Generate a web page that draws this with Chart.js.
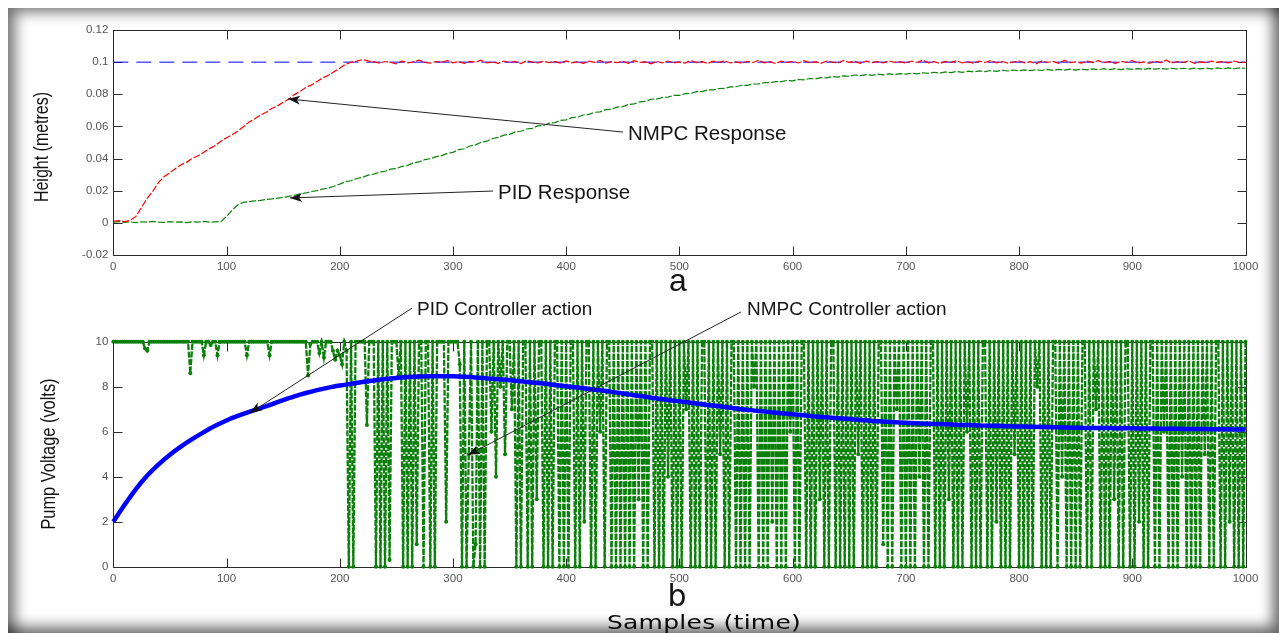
<!DOCTYPE html>
<html>
<head>
<meta charset="utf-8">
<script src="https://cdn.jsdelivr.net/npm/chart.js@4.4.1/dist/chart.umd.min.js"></script>
<style>
html,body{margin:0;padding:0;background:#fff;width:1279px;height:633px;overflow:hidden;position:relative;}
#frame{position:absolute;left:8px;top:8px;width:1271px;height:625px;
  box-shadow: inset 13px 10px 14px -6px rgba(0,0,0,0.55), inset -12px -12px 14px -6px rgba(0,0,0,0.6);}
canvas{position:absolute;left:0;}
.lbl{position:absolute;white-space:nowrap;color:#151515;font-family:"Liberation Sans",Arial,sans-serif;}
.ytitle{position:absolute;white-space:nowrap;color:#111;font-family:"Liberation Sans",Arial,sans-serif;font-size:19.5px;line-height:19.5px;transform-origin:50% 50%;}
</style>
</head>
<body>
<div id="frame"></div>
<canvas id="c1" width="1279" height="290" style="top:0px"></canvas>
<canvas id="c2" width="1279" height="343" style="top:290px"></canvas>

<div class="ytitle" style="left:42px;top:146.5px;transform:translate(-50%,-50%) rotate(-90deg) scaleX(0.82)">Height (metres)</div>
<div class="ytitle" style="left:49px;top:454px;transform:translate(-50%,-50%) rotate(-90deg) scaleX(0.84)">Pump Voltage (volts)</div>
<div class="lbl" style="left:628px;top:122.6px;font-size:20.5px;line-height:20.5px">NMPC Response</div>
<div class="lbl" style="left:498px;top:181.6px;font-size:20.5px;line-height:20.5px">PID Response</div>
<div class="lbl" style="left:678px;top:264.4px;font-size:32px;line-height:32px;transform:translateX(-50%)">a</div>
<div class="lbl" style="left:417px;top:298.9px;font-size:19px;line-height:19px">PID Controller action</div>
<div class="lbl" style="left:747px;top:298.9px;font-size:19px;line-height:19px">NMPC Controller action</div>
<div class="lbl" style="left:677px;top:580.6px;font-size:30px;line-height:30px;font-family:'DejaVu Sans',Verdana,sans-serif;transform:translateX(-50%)">b</div>
<div class="lbl" style="left:703.5px;top:612px;font-size:20px;line-height:20px;color:#0a0a0a;font-family:'DejaVu Sans',Verdana,sans-serif;transform:translateX(-50%) scaleX(1.25);letter-spacing:0.2px">Samples (time)</div>

<script>
// ---------------- DATA ----------------
const sampleTicks = [0,100,200,300,400,500,600,700,800,900,1000];
const sampleTickLabels = ['0','100','200','300','400','500','600','700','800','900','1000'];
const heightTicks = [-0.02,0,0.02,0.04,0.06,0.08,0.1,0.12];
const heightTickLabels = ['-0.02','0','0.02','0.04','0.06','0.08','0.1','0.12'];
const voltageTicks = [0,2,4,6,8,10];
const voltageTickLabels = ['0','2','4','6','8','10'];

// tank height responses, one value every 5 samples (0..1000)
const responseStep = 5;
const nmpcHeight = [
 0.0010,0.0014,0.0008,0.0016,0.0040,0.0098,0.0152,0.0198,0.0252,0.0288,0.0312,0.0338,0.0362,0.0378,0.0402,0.0418,0.0440,0.0462,0.0481,0.0508,
 0.0530,0.0548,0.0572,0.0598,0.0628,0.0648,0.0671,0.0688,0.0712,0.0728,0.0750,0.0770,0.0798,0.0818,0.0842,0.0858,0.0880,0.0902,0.0918,0.0940,
 0.0962,0.0986,0.1000,0.1006,0.1016,0.1008,0.1002,0.0994,0.1004,0.0998,0.0990,0.1006,0.0996,0.1002,0.1012,0.0998,0.0994,0.1004,0.0999,0.1010,
 0.0996,0.1003,0.0992,0.1005,0.0999,0.1012,0.0995,0.1001,0.0993,0.1007,0.0998,0.1004,0.0991,0.1009,0.1000,0.0995,0.1006,0.0997,0.1003,0.0994,
 0.1008,0.0996,0.1002,0.0992,0.1006,0.0999,0.1011,0.0994,0.1003,0.0997,0.1005,0.0993,0.1009,0.0998,0.1001,0.0990,0.1004,0.0996,0.1007,0.0995,
 0.1002,0.0994,0.1010,0.0997,0.1003,0.0992,0.1006,0.0999,0.1008,0.0995,0.1001,0.0993,0.1005,0.0998,0.1012,0.0996,0.1003,0.0991,0.1006,0.0998,
 0.1004,0.0995,0.1009,0.0997,0.1002,0.0993,0.1007,0.1000,0.0994,0.1011,0.0998,0.1003,0.0992,0.1006,0.0997,0.1004,0.0995,0.1008,0.0999,0.1002,
 0.0994,0.1007,0.0998,0.1013,0.0996,0.1003,0.0991,0.1005,0.0999,0.1009,0.0995,0.1002,0.0993,0.1006,0.0998,0.1010,0.0996,0.1004,0.0994,0.1001,
 0.1007,0.0995,0.1003,0.0990,0.1008,0.0998,0.1005,0.0993,0.1011,0.0997,0.1002,0.0994,0.1006,0.0999,0.1009,0.0996,0.1003,0.0992,0.1005,0.0998,
 0.1010,0.0995,0.1002,0.0993,0.1007,0.0997,0.1012,0.0994,0.1004,0.0998,0.1008,0.0993,0.1001,0.0996,0.1006,0.0999,0.1003,0.0995,0.1007,0.0998,
 0.1000
];
const pidHeight = [
 0.0004,0.0008,0.0003,0.0006,0.0002,0.0007,0.0004,0.0009,0.0005,0.0003,0.0008,0.0004,0.0006,0.0002,0.0007,0.0005,0.0009,0.0004,0.0006,0.0008,
 0.0040,0.0080,0.0112,0.0128,0.0132,0.0137,0.0140,0.0146,0.0149,0.0154,0.0158,0.0165,0.0172,0.0180,0.0186,0.0195,0.0201,0.0210,0.0217,0.0228,
 0.0241,0.0256,0.0262,0.0276,0.0283,0.0297,0.0303,0.0316,0.0321,0.0334,0.0338,0.0351,0.0358,0.0373,0.0379,0.0393,0.0399,0.0412,0.0418,0.0432,
 0.0439,0.0456,0.0461,0.0478,0.0485,0.0502,0.0508,0.0525,0.0532,0.0546,0.0551,0.0566,0.0570,0.0584,0.0588,0.0603,0.0606,0.0621,0.0624,0.0638,
 0.0641,0.0655,0.0658,0.0671,0.0675,0.0688,0.0691,0.0704,0.0707,0.0720,0.0723,0.0737,0.0740,0.0753,0.0756,0.0769,0.0770,0.0781,0.0782,0.0793,
 0.0793,0.0804,0.0805,0.0816,0.0817,0.0827,0.0827,0.0836,0.0837,0.0846,0.0847,0.0856,0.0856,0.0864,0.0864,0.0872,0.0872,0.0879,0.0879,0.0886,
 0.0884,0.0892,0.0890,0.0898,0.0896,0.0904,0.0902,0.0910,0.0907,0.0915,0.0912,0.0920,0.0916,0.0922,0.0918,0.0925,0.0921,0.0927,0.0923,0.0929,
 0.0925,0.0931,0.0927,0.0934,0.0930,0.0937,0.0932,0.0939,0.0935,0.0942,0.0937,0.0944,0.0939,0.0946,0.0941,0.0948,0.0943,0.0950,0.0945,0.0951,
 0.0946,0.0952,0.0947,0.0953,0.0948,0.0955,0.0949,0.0955,0.0950,0.0957,0.0951,0.0957,0.0952,0.0958,0.0953,0.0959,0.0953,0.0959,0.0954,0.0960,
 0.0955,0.0960,0.0955,0.0961,0.0956,0.0961,0.0956,0.0962,0.0957,0.0962,0.0957,0.0963,0.0958,0.0963,0.0958,0.0964,0.0958,0.0964,0.0959,0.0964,
 0.0962
];
const setpointSamples = [0, 1000];
const setpointHeight = [0.1, 0.1];

// pump voltage, PID: one value every 10 samples
const pidVoltageStep = 10;
const pidVoltage = [
 2.00,2.75,3.45,4.05,4.55,4.98,5.35,5.68,5.98,6.26,
 6.50,6.70,6.88,7.05,7.22,7.40,7.57,7.72,7.85,7.96,
 8.05,8.13,8.21,8.28,8.34,8.39,8.43,8.45,8.47,8.47,
 8.46,8.44,8.41,8.37,8.33,8.29,8.24,8.19,8.14,8.08,
 8.02,7.96,7.90,7.84,7.77,7.70,7.62,7.55,7.48,7.41,
 7.35,7.29,7.22,7.16,7.10,7.03,6.97,6.92,6.87,6.82,
 6.78,6.73,6.68,6.64,6.60,6.56,6.52,6.48,6.45,6.42,
 6.40,6.37,6.35,6.34,6.32,6.30,6.29,6.27,6.26,6.24,
 6.23,6.22,6.21,6.20,6.19,6.18,6.17,6.17,6.16,6.15,
 6.15,6.14,6.14,6.13,6.13,6.12,6.12,6.11,6.11,6.10,6.10
];
// pump voltage, NMPC: one value every 2 samples
const nmpcVoltageStep = 2;
const nmpcVoltage = [
 10,10,10,10,10,10,10,10,10,10,10,10,10,10,9.7,9.6,10,10,10,10,10,10,10,10,10,
 10,10,10,10,10,10,10,10,10,8.6,10,10,10,10,10,9.4,10,10,9.85,10,10,9.4,10,10,10,
 10,10,10,10,10,10,10,10,10,9.4,10,10,10,10,10,10,10,10,10,9.4,10,10,10,10,10,
 10,10,10,10,10,10,10,10,10,10,10,8.5,9.9,10,10,10,9.5,10,9.3,10,10,10,9.6,9.2,9.6,
 9.4,9.0,10,9.6,0,10,0,10,10,10,10,10,6.3,10,10,10,0,10,0,10,0,10,0.3,10,10,
 10,8.5,10,0,10,0,10,0,10,1,10,10,0,10,10,0,10,0,10,10,10,10,2,10,10,
 10,10,10,9,0,10,0,5,10,0,1,10,0,10,0,10,10,6,10,4,10,8,10,5,10,
 10,7,10,0,10,0,10,10,0,10,0,10,3,10,10,0,10,0,10,0,10,10,0,10,0,
 10,0,10,10,0,10,0,10,2,10,10,0,10,0,10,6,10,0,10,10,0,10,0,10,0,
 10,0,10,0,10,0,10,3,10,0,10,0,10,10,0,10,0,10,0,10,4,10,0,10,0,
 10,0,10,7,10,0,10,0,10,0,10,10,0,10,0,10,0,10,5,10,0,10,0,10,10,
 0,10,0,10,0,10,0,10,8,10,0,10,0,10,0,10,2,10,0,10,0,10,0,10,6,
 10,0,10,0,10,10,0,10,0,10,0,10,3,10,0,10,0,10,10,0,10,0,10,0,10,
 0,10,0,10,5,10,0,10,0,10,0,10,0,10,10,1,10,0,10,0,10,7,10,0,10,
 0,10,0,10,0,10,4,10,0,10,0,10,10,0,10,0,10,0,10,3,10,0,10,0,10,
 0,10,6,10,0,10,0,10,0,10,10,0,10,0,10,2,10,0,10,0,10,0,10,5,10,
 0,10,0,10,0,10,0,10,8,10,0,10,0,10,0,10,10,0,10,4,10,0,10,0,10,
 0,10,0,10,10,0,10,0,10,7,10,0,10,0,10,0,10,3,10,0,10,0,10,10,0,
 10,0,10,2,10,0,10,0,10,10,0,10,0,10,6,10,0,10,0,10,0,10,4,10,0,
 10,0,10,0,10,0,10,5,10,0,10,0,10,10,0,10,0,10,2,10,0,10,0,10,0,
 10
];

// ---------------- HELPERS ----------------
const toPoints = (vals, step) => vals.map((v, i) => ({x: i * step, y: v}));
const pairPoints = (xs, ys) => xs.map((x, i) => ({x: x, y: ys[i]}));
const tickFont = {family: "'Liberation Sans', Arial, sans-serif", size: 11.5};

const matlabAxes = {
  id: 'matlabAxes',
  beforeDatasetsDraw(chart) {
    const {ctx, chartArea: a, scales: {x, y}} = chart;
    ctx.save();
    ctx.strokeStyle = '#2a2a2a';
    ctx.lineWidth = 1;
    const L = Math.round(a.left) + 0.5, R = Math.round(a.right) + 0.5, T = Math.round(a.top) + 0.5, B = Math.round(a.bottom) + 0.5;
    ctx.strokeRect(L, T, R - L, B - T);
    ctx.beginPath();
    x.ticks.forEach(t => {
      const px = Math.round(x.getPixelForValue(t.value)) + 0.5;
      ctx.moveTo(px, B); ctx.lineTo(px, B - 9);
      ctx.moveTo(px, T); ctx.lineTo(px, T + 9);
    });
    y.ticks.forEach(t => {
      const py = Math.round(y.getPixelForValue(t.value)) + 0.5;
      ctx.moveTo(L, py); ctx.lineTo(L + 9, py);
      ctx.moveTo(R, py); ctx.lineTo(R - 9, py);
    });
    ctx.stroke();
    ctx.restore();
  }
};

const arrowPlugin = {
  id: 'arrows',
  afterDraw(chart, args, opts) {
    const {ctx, scales: {x, y}} = chart;
    (opts.items || []).forEach(it => {
      const x1 = x.getPixelForValue(it.from[0]), y1 = y.getPixelForValue(it.from[1]);
      const x2 = x.getPixelForValue(it.to[0]), y2 = y.getPixelForValue(it.to[1]);
      const ang = Math.atan2(y2 - y1, x2 - x1);
      ctx.save();
      ctx.strokeStyle = '#222'; ctx.fillStyle = '#111'; ctx.lineWidth = 1;
      ctx.beginPath(); ctx.moveTo(x1, y1); ctx.lineTo(x2, y2); ctx.stroke();
      const len = 12, w = 4.5;
      ctx.translate(x2, y2); ctx.rotate(ang);
      ctx.beginPath();
      ctx.moveTo(0, 0); ctx.lineTo(-len, -w); ctx.lineTo(-len + 3, 0); ctx.lineTo(-len, w); ctx.closePath();
      ctx.fill();
      ctx.restore();
    });
  }
};

function makeScales(yTicks, yLabels, yMin, yMax) {
  return {
    x: {
      type: 'linear', min: 0, max: 1000,
      afterBuildTicks: s => { s.ticks = sampleTicks.map(v => ({value: v})); },
      afterFit: s => { s.height = 20; },
      grid: {display: false, drawTicks: false}, border: {display: false},
      ticks: {autoSkip: false, maxRotation: 0, padding: 5, color: '#555', font: tickFont,
              callback: (v, i) => sampleTickLabels[i]}
    },
    y: {
      type: 'linear', min: yMin, max: yMax,
      afterBuildTicks: s => { s.ticks = yTicks.map(v => ({value: v})); },
      afterFit: s => { s.width = 113.3; },
      grid: {display: false, drawTicks: false}, border: {display: false},
      ticks: {autoSkip: false, padding: 5, color: '#555', font: tickFont,
              callback: (v, i) => yLabels[i]}
    }
  };
}

// ---------------- CHART a ----------------
new Chart(document.getElementById('c1'), {
  type: 'line',
  data: {
    datasets: [
      {label: 'NMPC Response', data: toPoints(nmpcHeight, responseStep), borderColor: '#ff0000', borderWidth: 1.2,
       borderDash: [7, 2], pointRadius: 0, tension: 0},
      {label: 'PID Response', data: toPoints(pidHeight, responseStep), borderColor: '#0a840a', borderWidth: 1.2,
       borderDash: [7, 2], pointRadius: 0, tension: 0},
      {label: 'Setpoint', data: pairPoints(setpointSamples, setpointHeight), borderColor: '#0000ff', borderWidth: 1,
       borderDash: [15, 8], pointRadius: 0}
    ]
  },
  options: {
    responsive: false, animation: false, devicePixelRatio: 1,
    layout: {padding: {left: 0, right: 33.5, top: 30, bottom: 15}},
    scales: makeScales(heightTicks, heightTickLabels, -0.02, 0.12),
    plugins: {
      legend: {display: false}, tooltip: {enabled: false},
      arrows: {items: [
        {from: [450.2, 0.0565], to: [154.3, 0.0771]},
        {from: [335.4, 0.0198], to: [156.1, 0.0155]}
      ]}
    }
  },
  plugins: [matlabAxes, arrowPlugin]
});

// ---------------- CHART b ----------------
new Chart(document.getElementById('c2'), {
  type: 'line',
  data: {
    datasets: [
      {label: 'PID Controller action', data: toPoints(pidVoltage, pidVoltageStep), borderColor: '#0000ff', borderWidth: 4.5,
       pointRadius: 0, cubicInterpolationMode: 'monotone', clip: 4},
      {label: 'NMPC Controller action', data: toPoints(nmpcVoltage, nmpcVoltageStep), borderColor: '#0a800a', borderWidth: 2.3,
       borderDash: [6, 1.5], pointRadius: 2, pointBackgroundColor: '#0a800a', pointBorderWidth: 0, tension: 0, clip: 4}
    ]
  },
  options: {
    responsive: false, animation: false, devicePixelRatio: 1,
    layout: {padding: {left: 0, right: 33.5, top: 51.7, bottom: 46.3}},
    scales: makeScales(voltageTicks, voltageTickLabels, 0, 10),
    plugins: {
      legend: {display: false}, tooltip: {enabled: false},
      arrows: {items: [
        {from: [263.8, 11.49], to: [120.7, 6.83]},
        {from: [554.3, 11.32], to: [313.3, 4.96]}
      ]}
    }
  },
  plugins: [matlabAxes, arrowPlugin]
});
</script>
</body>
</html>
